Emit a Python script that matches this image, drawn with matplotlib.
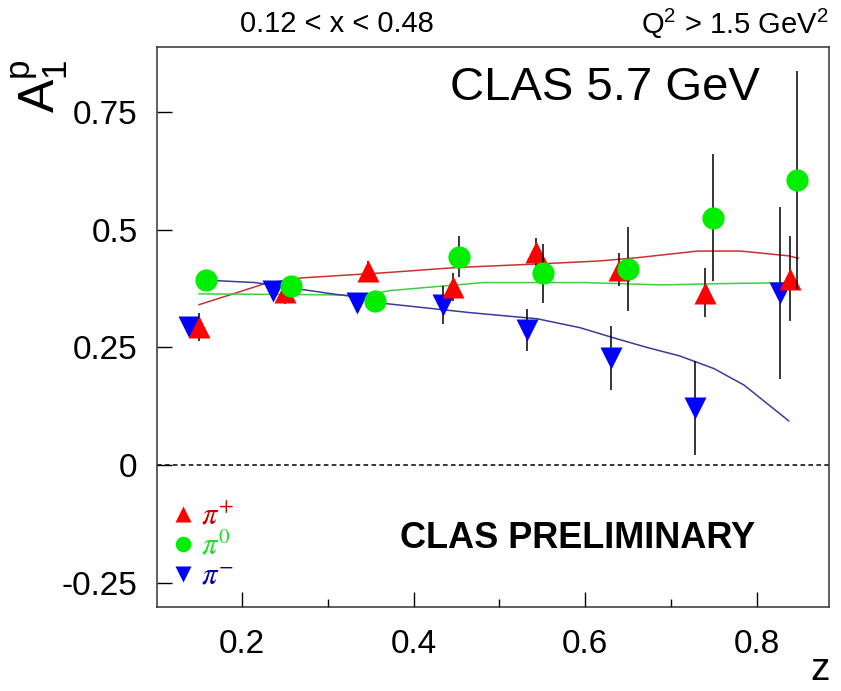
import matplotlib
matplotlib.use("Agg")
import matplotlib.pyplot as plt

plt.rcParams['font.family'] = ['Liberation Sans', 'DejaVu Sans']
plt.rcParams['mathtext.fontset'] = 'custom'
plt.rcParams['mathtext.rm'] = 'Liberation Sans'
plt.rcParams['mathtext.it'] = 'Liberation Sans:italic'

# ---- data ----
z_pip = [0.150, 0.250, 0.347, 0.446, 0.543, 0.639, 0.739, 0.838]
a_pip = [0.294, 0.368, 0.413, 0.379, 0.453, 0.415, 0.366, 0.396]
e_pip = [0.030, 0.025, 0.020, 0.030, 0.030, 0.035, 0.052, 0.090]

z_pi0 = [0.158, 0.257, 0.355, 0.453, 0.551, 0.650, 0.749, 0.847]
a_pi0 = [0.394, 0.381, 0.349, 0.443, 0.408, 0.417, 0.526, 0.606]
e_pi0 = [0.020, 0.020, 0.020, 0.044, 0.063, 0.090, 0.135, 0.232]

z_pim = [0.138, 0.236, 0.334, 0.434, 0.532, 0.630, 0.728, 0.827]
a_pim = [0.294, 0.370, 0.345, 0.340, 0.287, 0.228, 0.121, 0.366]
e_pim = [0.020, 0.020, 0.020, 0.040, 0.045, 0.068, 0.100, 0.183]

# model curves
cz_pip = [0.15, 0.20, 0.227, 0.27, 0.367, 0.45, 0.55, 0.617, 0.661, 0.731, 0.781, 0.836, 0.848]
ca_pip = [0.341, 0.370, 0.386, 0.398, 0.409, 0.420, 0.428, 0.434, 0.441, 0.455, 0.455, 0.445, 0.440]

cz_pi0 = [0.15, 0.30, 0.34, 0.373, 0.481, 0.60, 0.689, 0.767, 0.845]
ca_pi0 = [0.364, 0.362, 0.360, 0.371, 0.388, 0.388, 0.383, 0.386, 0.388]

cz_pim = [0.15, 0.171, 0.215, 0.305, 0.34, 0.369, 0.466, 0.544, 0.594, 0.632, 0.672, 0.710, 0.750, 0.785, 0.837]
ca_pim = [0.395, 0.392, 0.388, 0.364, 0.356, 0.343, 0.324, 0.311, 0.292, 0.271, 0.250, 0.232, 0.205, 0.170, 0.094]

xticks = [0.2, 0.4, 0.6, 0.8]
xminor = [0.3, 0.5, 0.7]
yticks = [-0.25, 0, 0.25, 0.5, 0.75]
yticklabels = ['-0.25', '0', '0.25', '0.5', '0.75']
labels = [r'$\pi^{+}$', r'$\pi^{0}$', r'$\pi^{-}$']

# ---- figure ----
fig = plt.figure(figsize=(8.41, 6.91), dpi=100)
ax = fig.add_axes([157/841, 1-607/691, (829-157)/841, (607-47)/691])
ax.set_xlim(0.101, 0.884)
ax.set_ylim(-0.302, 0.889)

ax.axhline(0, color='black', lw=1.1, ls=(0, (3, 2.2)), zorder=1)

ax.plot(cz_pip, ca_pip, color='#c83232', lw=1.1, zorder=2)
ax.plot(cz_pi0, ca_pi0, color='#44cc44', lw=1.1, zorder=2)
ax.plot(cz_pim, ca_pim, color='#3a3aa0', lw=1.1, zorder=2)

ms = 16
ax.errorbar(z_pim, a_pim, yerr=e_pim, fmt='none', ecolor='black', elinewidth=1.1, capsize=0, zorder=3)
h_pim, = ax.plot(z_pim, a_pim, 'v', color='#0000ff', ms=ms, mec='none', zorder=4)
ax.errorbar(z_pip, a_pip, yerr=e_pip, fmt='none', ecolor='black', elinewidth=1.1, capsize=0, zorder=5)
h_pip, = ax.plot(z_pip, a_pip, '^', color='#ff0000', ms=ms, mec='none', zorder=6)
ax.errorbar(z_pi0, a_pi0, yerr=e_pi0, fmt='none', ecolor='black', elinewidth=1.1, capsize=0, zorder=7)
h_pi0, = ax.plot(z_pi0, a_pi0, 'o', color='#00ee00', ms=ms, mec='none', zorder=8)

ax.set_xticks(xticks)
ax.set_xticklabels([f'{v:g}' for v in xticks])
ax.set_xticks(xminor, minor=True)
ax.set_yticks(yticks)
ax.set_yticklabels(yticklabels)
ax.tick_params(axis='x', which='major', direction='in', length=11, width=1.0, labelsize=24, pad=16)
ax.tick_params(axis='x', which='minor', direction='in', length=6, width=1.0)
ax.tick_params(axis='y', which='major', direction='in', length=11, width=1.0, labelsize=24, pad=14)
for s in ax.spines.values():
    s.set_color('#333333')
    s.set_linewidth(1.1)

leg = ax.legend([h_pip, h_pi0, h_pim], labels, loc='lower left', bbox_to_anchor=(0.0, 0.0),
                frameon=False, handlelength=0.7, handletextpad=0.25, labelspacing=0.0,
                markerscale=0.7, fontsize=22, borderaxespad=0.3, borderpad=0.2)
for t, c in zip(leg.get_texts(), ['#cc0000', '#22dd22', '#0000aa']):
    t.set_color(c)
    t.set_math_fontfamily('stix')

ax.text(0.667, 0.905, 'CLAS 5.7 GeV', transform=ax.transAxes, ha='center', va='baseline', fontsize=34)
ax.text(0.6265, 0.1054, 'CLAS PRELIMINARY', transform=ax.transAxes, ha='center', va='baseline',
        fontsize=26, fontweight='bold')

fig.text(337/841, 1-24/691, '0.12 < x < 0.48', ha='center', va='center', fontsize=21)
fig.text(829/841, 1-24/691, r'Q$^2$ > 1.5 GeV$^2$', ha='right', va='center', fontsize=21)
fig.text(40/841, 1-113/691, r'$\mathregular{A_1^p}$', rotation=90, ha='center', va='bottom', fontsize=36)
fig.text(830/841, 3/691, 'z', ha='right', va='bottom', fontsize=28)

fig.savefig('out.png', dpi=100)
